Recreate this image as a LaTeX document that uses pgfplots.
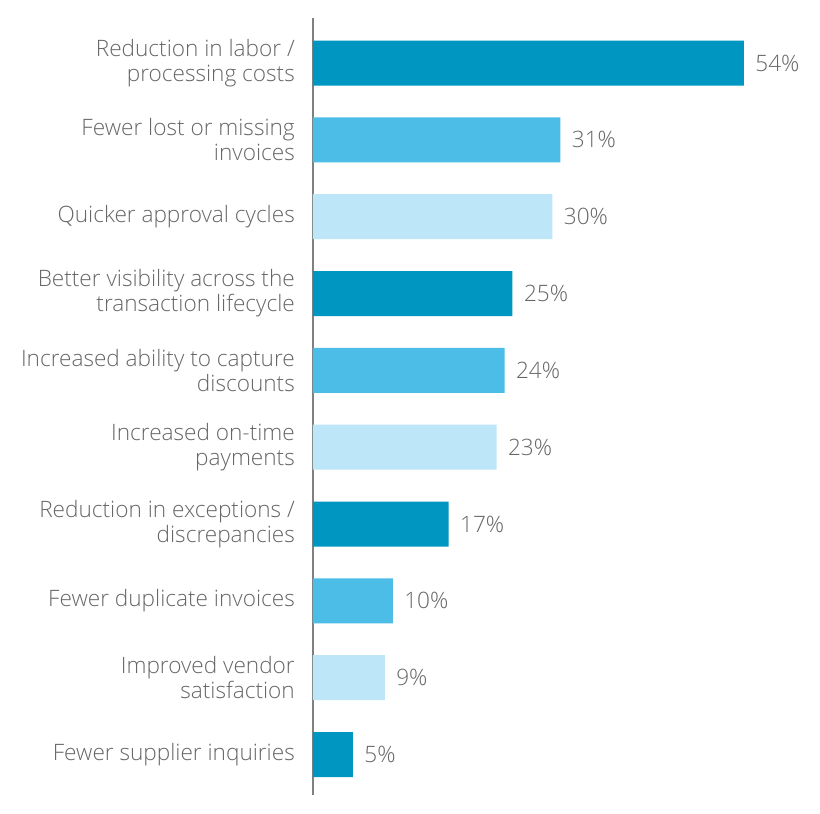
\documentclass[border=0pt]{standalone}
\usepackage{pgfplots}
\pgfplotsset{compat=1.18}
\usepackage{fontspec}
\setmainfont{Open Sans}[UprightFont={* Light}]
\definecolor{cdark}{HTML}{0096C2}
\definecolor{cmid}{HTML}{4BBDE6}
\definecolor{clight}{HTML}{BDE6F8}
\definecolor{txt}{HTML}{666666}
\definecolor{axl}{HTML}{808080}
\begin{document}
\begin{tikzpicture}
\path[use as bounding box, fill=white] (0,0) rectangle (820pt,814pt);
\begin{axis}[
  at={(313pt,19pt)}, anchor=south west,
  scale only axis, width=502.7pt, height=777pt,
  xmin=0, xmax=63, ymin=-0.586, ymax=9.527,
  y dir=reverse,
  xbar, bar width=45pt, bar shift=0pt,
  axis x line=none, axis y line*=left,
  y axis line style={axl, line width=2pt, -},
  major tick length=0pt,
  /pgf/number format/assume math mode=true,
  ytick={0,...,9},
  yticklabels={{Reduction in labor /\\processing costs},{Fewer lost or missing\\invoices},{Quicker approval cycles},{Better visibility across the\\transaction lifecycle},{Increased ability to capture\\discounts},{Increased on-time\\payments},{Reduction in exceptions /\\discrepancies},{Fewer duplicate invoices},{Improved vendor\\satisfaction},{Fewer supplier inquiries}},
  yticklabel style={align=right, font=\fontsize{22.6}{25}\selectfont, text=txt, inner sep=0pt, xshift=-18pt},
  nodes near coords={\pgfmathprintnumber{\pgfplotspointmeta}\%},
  point meta=x,
  every node near coord/.append style={font=\fontsize{22.6}{25}\selectfont, text=txt, xshift=8pt},
  clip=false,
]
\addplot[draw=none, fill=cdark] coordinates {(54,0) (25,3) (17,6) (5,9)};
\addplot[draw=none, fill=cmid] coordinates {(31,1) (24,4) (10,7)};
\addplot[draw=none, fill=clight] coordinates {(30,2) (23,5) (9,8)};
\end{axis}
\end{tikzpicture}
\end{document}
